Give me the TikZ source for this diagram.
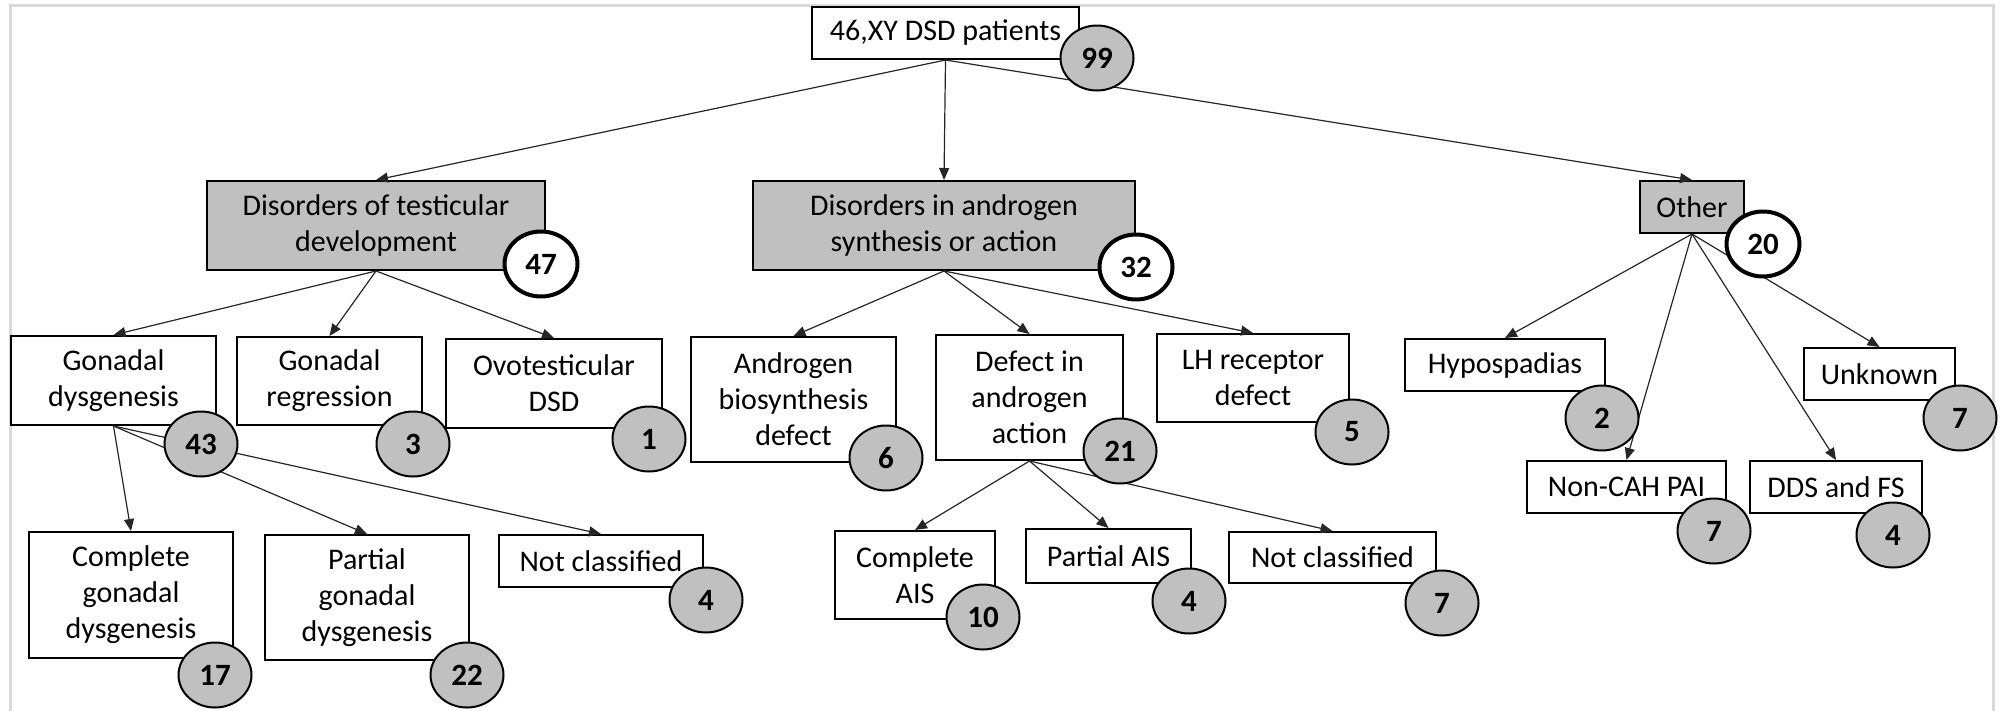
\documentclass[tikz,border=0pt]{standalone}
\usepackage{fontspec}
\setmainfont{Carlito}
\usetikzlibrary{arrows.meta,shapes.geometric}
\definecolor{boxgray}{RGB}{192,192,192}
\definecolor{framegray}{RGB}{218,218,218}
\begin{document}
\begin{tikzpicture}[x=1pt,y=-1pt,
  txt/.style={font=\fontsize{30}{36}\selectfont, align=center, text=black},
  box/.style={txt, draw=black, line width=2pt, fill=white, inner sep=0pt},
  groupbox/.style={box, fill=boxgray},
  cnt/.style={ellipse, draw=black, line width=2pt, fill=boxgray,
    minimum width=73, minimum height=65, inner sep=0pt,
    font=\fontsize{31}{36}\bfseries\selectfont},
  cntmain/.style={cnt, fill=white, line width=4pt},
  link/.style={draw=black!85, line width=1.2pt,
    -{Triangle[length=12pt,width=10pt]}}]

\useasboundingbox (0,0) rectangle (2000,710);
% light outer frame, open at the bottom
\draw[framegray, line width=3pt] (10,712) -- (10,5) -- (1993,5) -- (1993,712);

% root
\node[box, minimum width=267, minimum height=52] (root) at (945.5,33) {46,XY DSD patients};

% main groups
\node[groupbox, minimum width=338, minimum height=89] (testi) at (376,225.5) {Disorders of testicular\\development};
\node[groupbox, minimum width=382, minimum height=89] (andro) at (944,225.5) {Disorders in androgen\\synthesis or action};
\node[groupbox, minimum width=104, minimum height=52] (other) at (1692,207) {Other};

% disorders of testicular development
\node[box, minimum width=205, minimum height=89] (gd) at (113.5,380.5) {Gonadal\\dysgenesis};
\node[box, minimum width=185, minimum height=88] (gr) at (329.5,381) {Gonadal\\regression};
\node[box, minimum width=216, minimum height=89] (ovo) at (554,383.5) {Ovotesticular\\DSD};

% disorders in androgen synthesis or action
\node[box, minimum width=205, minimum height=125] (abd) at (793.5,399.5) {Androgen\\biosynthesis\\defect};
\node[box, minimum width=187, minimum height=125] (dia) at (1029.5,397.5) {Defect in\\androgen\\action};
\node[box, minimum width=192, minimum height=88] (lh) at (1253,378) {LH receptor\\defect};

% other
\node[box, minimum width=200, minimum height=52] (hypo) at (1505,365) {Hypospadias};
\node[box, minimum width=151, minimum height=52] (unk) at (1879.5,374) {Unknown};
\node[box, minimum width=199, minimum height=52] (noncah) at (1626.5,487) {Non-CAH PAI};
\node[box, minimum width=172, minimum height=52] (dds) at (1836,487) {DDS and FS};

% gonadal dysgenesis
\node[box, minimum width=204, minimum height=126] (cgd) at (131,595) {Complete\\gonadal\\dysgenesis};
\node[box, minimum width=204, minimum height=125] (pgd) at (367,597.5) {Partial\\gonadal\\dysgenesis};
\node[box, minimum width=204, minimum height=52] (gdnc) at (601,561) {Not classified};

% defect in androgen action
\node[box, minimum width=160, minimum height=88] (cais) at (915,575) {Complete\\AIS};
\node[box, minimum width=165, minimum height=54] (pais) at (1108.5,556) {Partial AIS};
\node[box, minimum width=207, minimum height=51] (dianc) at (1332.5,557.5) {Not classified};

% connectors
\foreach \a/\b in {root/testi, root/andro, root/other,
                   testi/gd, testi/gr, testi/ovo,
                   andro/abd, andro/dia, andro/lh,
                   other/hypo, other/noncah, other/dds, other/unk,
                   gd/cgd, gd/pgd, gd/gdnc,
                   dia/cais, dia/pais, dia/dianc}
  \draw[link] (\a.south) -- (\b.north);

% patient counts
\node[cnt] (nroot) at (1097,58) {99};
\node[cntmain] (ntesti) at (541,264) {47};
\node[cntmain] (nandro) at (1136,267) {32};
\node[cntmain] (nother) at (1763,244) {20};
\node[cnt] (ngd) at (201,444) {43};
\node[cnt] (ngr) at (413,444) {3};
\node[cnt] (novo) at (649,439) {1};
\node[cnt] (nabd) at (886,458) {6};
\node[cnt] (ndia) at (1120,451) {21};
\node[cnt] (nlh) at (1352,432) {5};
\node[cnt] (nhypo) at (1602,418) {2};
\node[cnt] (nunk) at (1960,418) {7};
\node[cnt] (nnoncah) at (1714,531) {7};
\node[cnt] (ndds) at (1893,535) {4};
\node[cnt] (ncgd) at (215,675) {17};
\node[cnt] (npgd) at (467,675) {22};
\node[cnt] (ngdnc) at (706,600) {4};
\node[cnt] (ncais) at (983,617) {10};
\node[cnt] (npais) at (1189,601) {4};
\node[cnt] (ndianc) at (1442,603) {7};
\end{tikzpicture}
\end{document}
